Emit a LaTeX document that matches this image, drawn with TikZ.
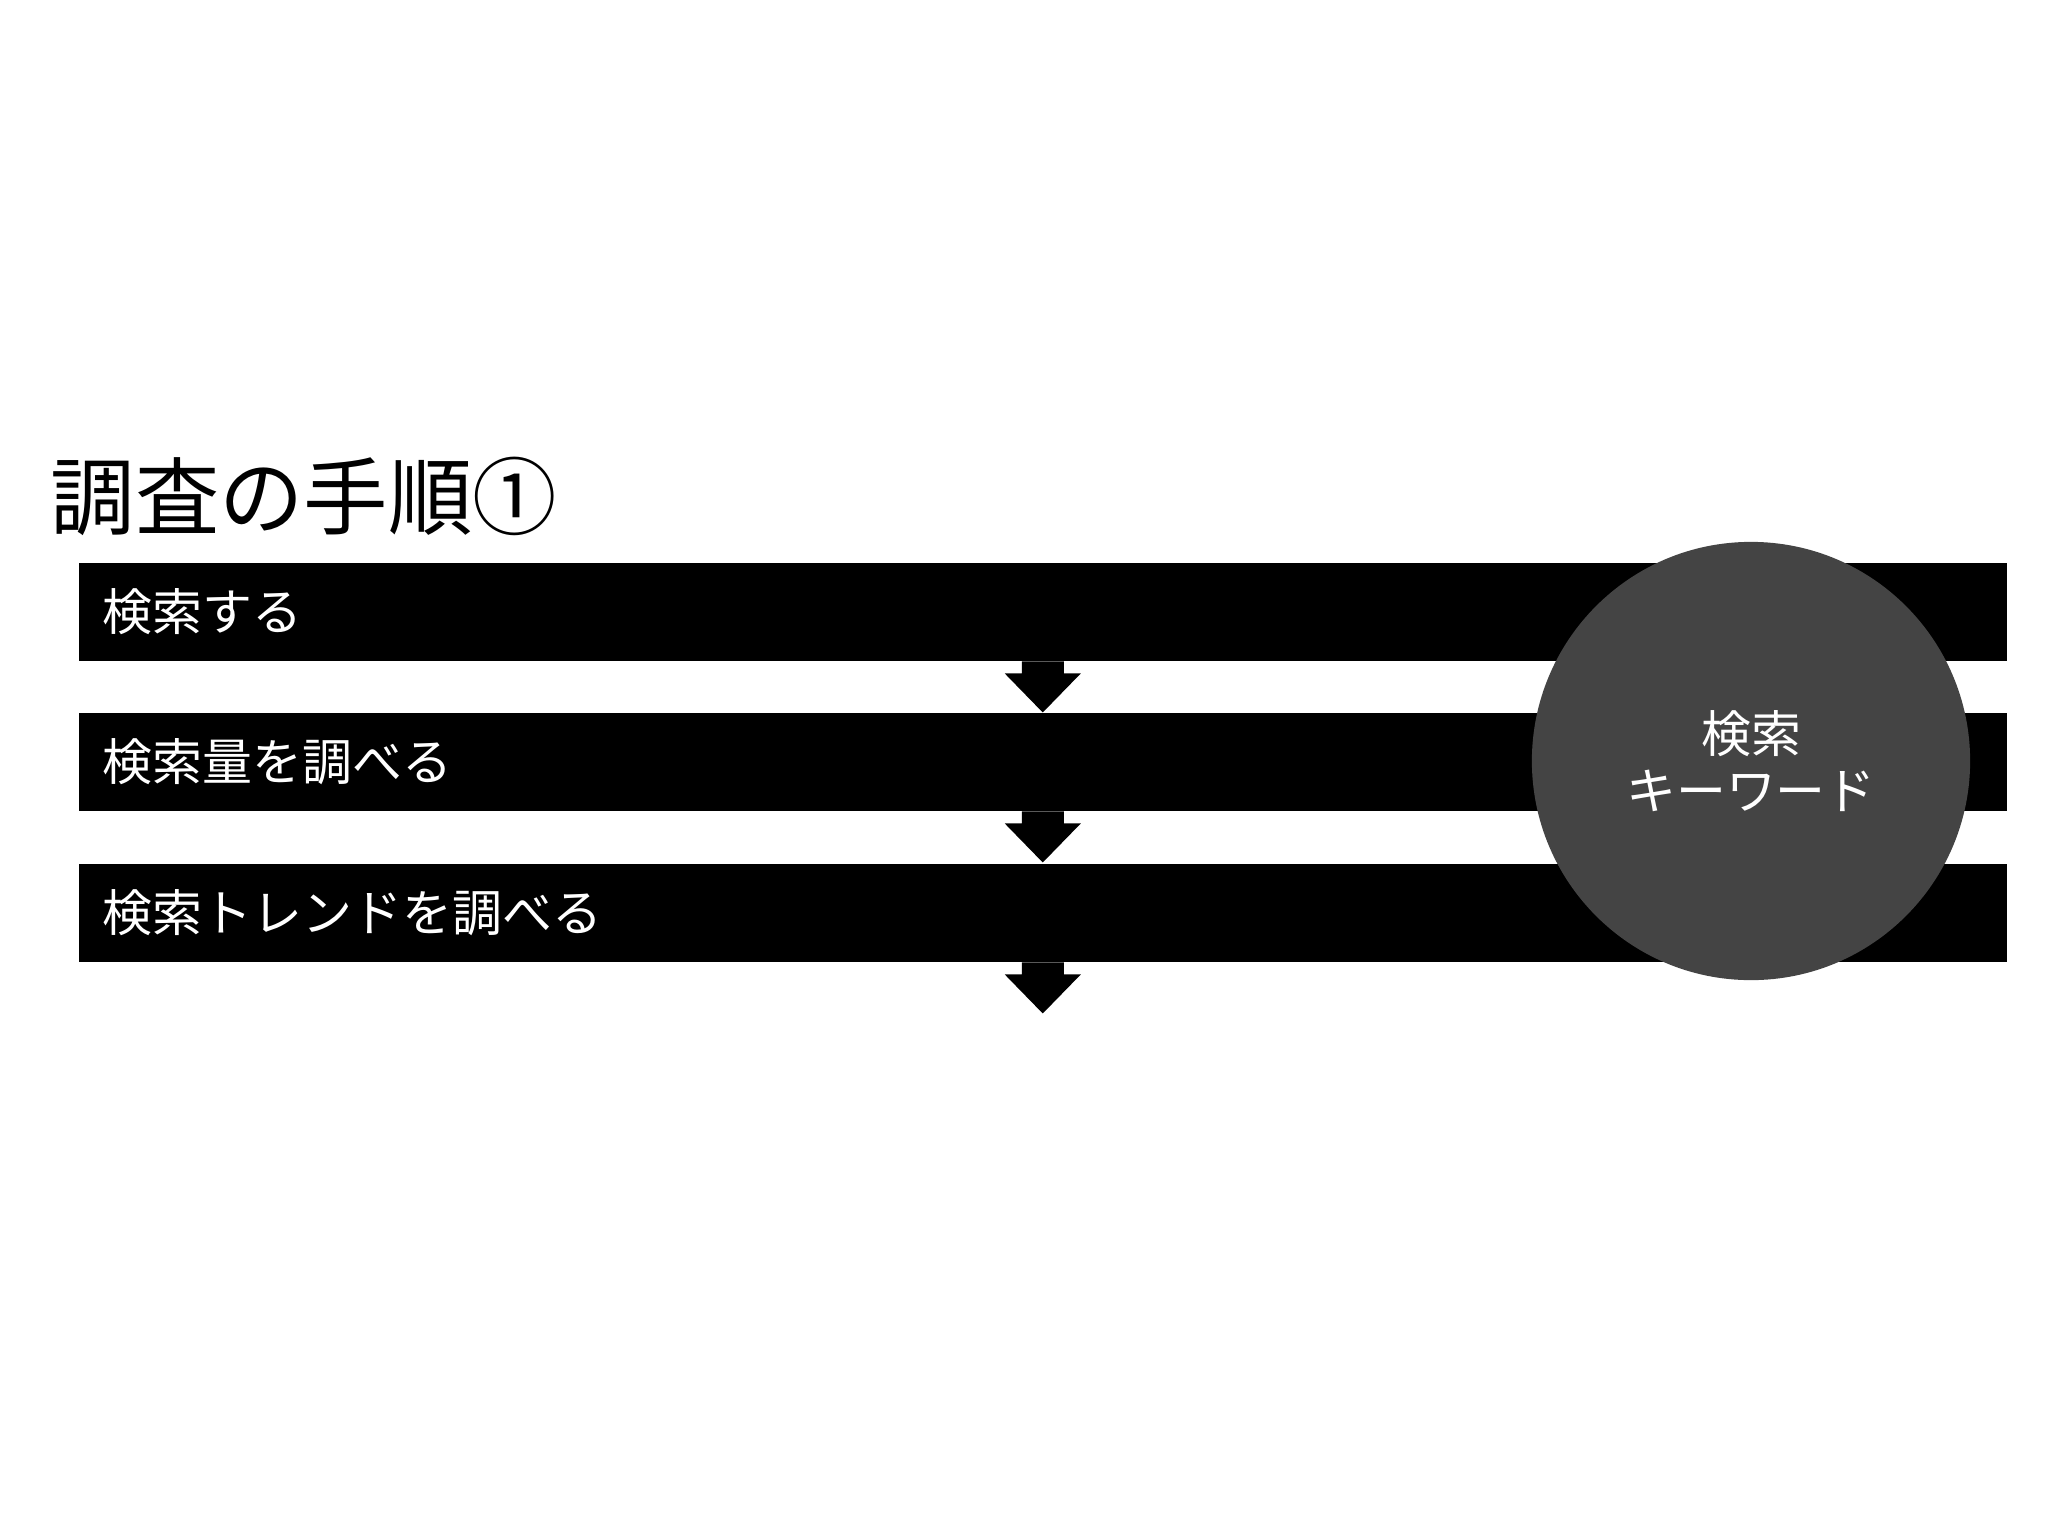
\documentclass[tikz,border=0pt]{standalone}
\usepackage{fontspec}
\setmainfont{Noto Sans CJK JP}
\usepackage{xcolor}
\usepackage{tikz}

\definecolor{keygray}{RGB}{68,68,68}

\begin{document}
\begin{tikzpicture}[
		x=0.01cm, y=-0.01cm,
		stepbar/.style={
			rectangle, fill=black, text=white, anchor=north west,
			minimum height=0.98cm, text width=18.79cm,
			inner xsep=0.24cm, inner ysep=0pt, align=left,
			font=\fontsize{14.2}{17}\selectfont
		},
		downarrow/.pic={
			\fill (-21,0) -- (-21,12) -- (-38,12) -- (0,51)
			-- (38,12) -- (21,12) -- (21,0) -- cycle;
		}
	]
	\useasboundingbox (0,0) rectangle (2048,1536);

	\node[
		anchor=west, inner sep=0pt,
		font=\fontsize{24}{28}\selectfont
	] (T) at (50,496) {調査の手順①};

	\node[stepbar] (S1) at (78,562) {検索する};
	\node[stepbar] (S2) at (78,712) {検索量を調べる};
	\node[stepbar] (S3) at (78,863) {検索トレンドを調べる};

	\foreach \s in {S1,S2,S3} {
			\pic at (\s.south) {downarrow};
		}

	\node[
		circle, fill=keygray, text=white, minimum size=4.38cm,
		align=center, font=\fontsize{14.2}{16}\selectfont
	] (K) at (1751,761) {検索\\キーワード};
\end{tikzpicture}
\end{document}
